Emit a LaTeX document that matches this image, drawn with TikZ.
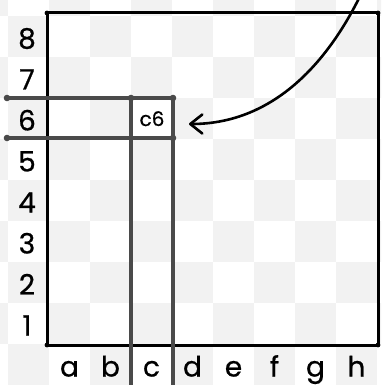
\documentclass[tikz,border=0pt]{standalone}
\usepackage{fontspec}
\setmainfont{Poppins}[FakeBold=0.7]
\usetikzlibrary{arrows.meta}
\definecolor{sqgray}{HTML}{F2F2F2}
\definecolor{guide}{HTML}{4A4A4A}
\begin{document}
\begin{tikzpicture}[x=1pt,y=-1pt,
  lbl/.style={font=\fontsize{28}{30}\selectfont, anchor=base, inner sep=0pt},
  cellbl/.style={font=\fontsize{20}{22}\selectfont, anchor=base, inner sep=0pt},
  guideline/.style={draw=guide, line width=3.2pt, line cap=round},
  frame/.style={draw=black, line width=3pt, line join=round, line cap=round},
  pointer/.style={draw=black, line width=2.6pt, line cap=round,
    -{Straight Barb[length=12pt,width=19pt,line cap=round,line join=round]}}]
\useasboundingbox (0,0) rectangle (381,385);
\clip (0,0) rectangle (381,385);
\fill[white] (0,0) rectangle (381,385);
\foreach \i in {-1,...,9}{\foreach \j in {0,...,9}{
  \pgfmathtruncatemacro\p{mod(\i+\j+20,2)}
  \ifnum\p=0 \fill[sqgray] ({8+41*\i},{385-41*(\j+1)}) rectangle ({8+41*(\i+1)},{385-41*\j}); \fi
}}
% board frame
\draw[frame] (47,13) rectangle (378,345);
\foreach \c in {(47,13),(378,13),(47,345),(378,345)} \fill \c circle (2.4pt);
% rank labels
\foreach \r in {1,...,8} \node[lbl] (rank\r) at (27,{385-41*\r-8.5}) {\r};
% file labels
\foreach \l [count=\k] in {a,b,c,d,e,f,g,h} \node[lbl] (file\l) at ({8+41*\k+20.5},376.5) {\l};
% square label
\node[cellbl] (csix) at (152,126) {c6};
% guide lines
\coordinate (hAl) at (7,98);
\coordinate (hAr) at (173,98);
\coordinate (hBl) at (7,138);
\coordinate (hBr) at (173,138);
\coordinate (vAt) at (131,98);
\coordinate (vAb) at (131,395);
\coordinate (vBb) at (173,395);
\draw[guideline] (hAl) -- (hAr);
\draw[guideline] (hBl) -- (hBr);
\draw[guideline] (vAt) -- (vAb);
\draw[guideline] (hAr) -- (vBb);
\foreach \p in {hAl,hAr,hBl,hBr,vAt} \fill[guide] (\p) circle (3.3pt);
% pointer arrow
\coordinate (arrStart) at (363,-10);
\coordinate (arrEnd) at (189,124);
\draw[pointer] (arrStart) .. controls (330,60) and (275,124) .. (arrEnd);
\end{tikzpicture}
\end{document}
